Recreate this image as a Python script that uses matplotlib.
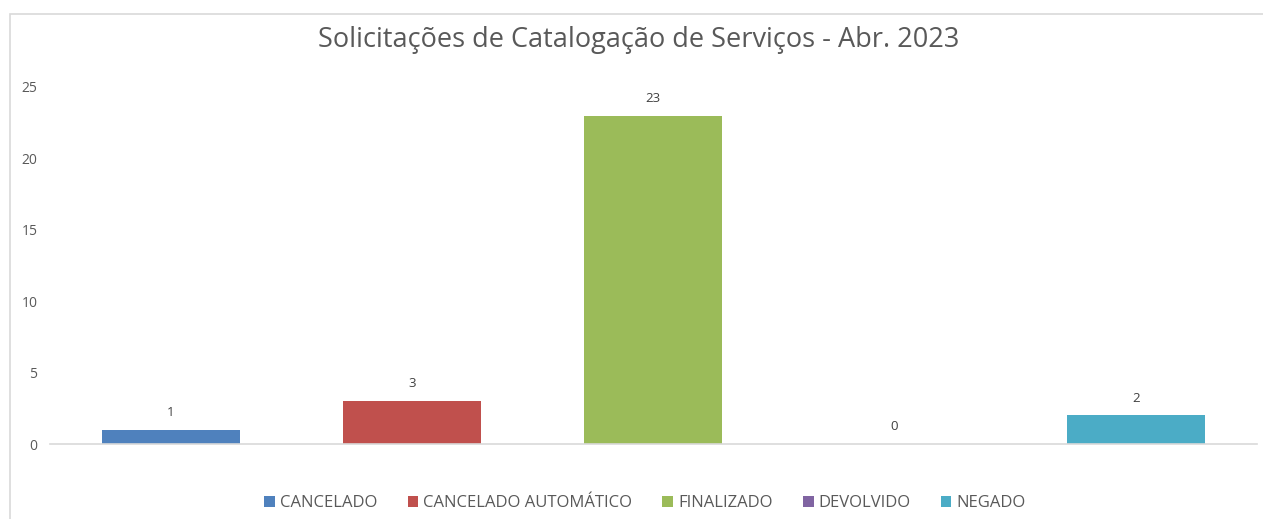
import matplotlib
matplotlib.use("Agg")
import matplotlib.pyplot as plt
from matplotlib.patches import Rectangle

status = ["CANCELADO", "CANCELADO AUTOMÁTICO", "FINALIZADO", "DEVOLVIDO", "NEGADO"]
counts = [1, 3, 23, 0, 2]
colors = ["#4F81BD", "#C0504D", "#9BBB59", "#8064A2", "#4BACC6"]
yticks = [0, 5, 10, 15, 20, 25]
title = "Solicitações de Catalogação de Serviços - Abr. 2023"

plt.rcParams["font.family"] = ["Open Sans", "DejaVu Sans"]
W, H = 1263, 519
fig = plt.figure(figsize=(W / 100, H / 100), dpi=100)
ax = fig.add_axes([50 / W, 1 - 444 / H, 1206.5 / W, 357 / H])

handles = []
for i, (name, v, c) in enumerate(zip(status, counts, colors)):
    b = ax.bar(i, v, width=0.573, color=c, label=name, zorder=2)
    handles.append(b)
    ax.text(i, v + 0.75, str(v), ha='center', va='bottom', fontsize=9.5, color='#404040')

ax.set_xlim(-0.5, len(status) - 0.5)
ax.set_ylim(0, 25)
ax.set_yticks(yticks)
ax.set_xticks([])
ax.tick_params(axis='y', length=0, pad=9, labelsize=10, labelcolor='#595959')
for s in ['top', 'right', 'left']:
    ax.spines[s].set_visible(False)
ax.spines['bottom'].set_color('#D9D9D9')
ax.spines['bottom'].set_linewidth(1.2)

fig.text(638.5 / W, 1 - 40 / H, title, ha='center', va='center', fontsize=19.5, color='#595959')

fig.legend(handles=handles, labels=status, loc='center', bbox_to_anchor=(645 / W, 1 - 503 / H),
           ncol=5, frameon=False, fontsize=12, labelcolor='#595959', handlelength=0.65,
           handleheight=0.65, handletextpad=0.3, columnspacing=1.8)

fig.add_artist(Rectangle((9.5 / W, -0.1), 1.2, 1.1 - 14.5 / H, transform=fig.transFigure,
                         fill=False, edgecolor='#D9D9D9', linewidth=1.2))

fig.savefig('out.png', dpi=100)
